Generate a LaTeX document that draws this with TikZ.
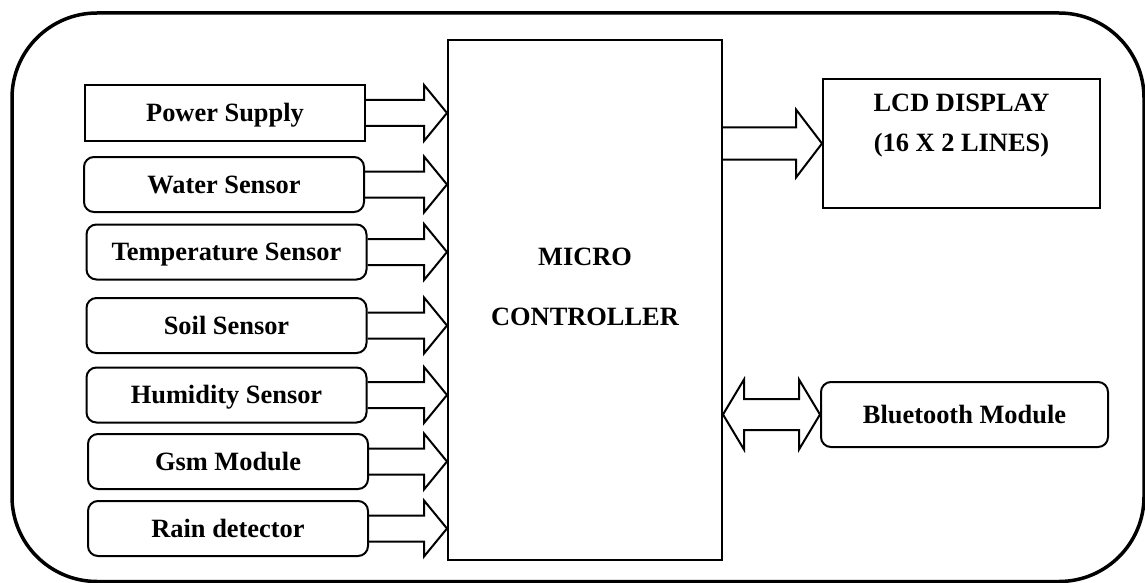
\documentclass[tikz,border=0pt]{standalone}
\usepackage{fontspec}
\setmainfont{Liberation Serif}
\usetikzlibrary{calc}
\tikzset{
  blk/.style={draw, line width=1pt, minimum width=140pt, minimum height=27.5pt, inner sep=0pt,
    text height=8.7pt, text depth=0pt},
  rblk/.style={blk, rounded corners=5pt},
  fat/.style={draw, line width=1pt, line join=miter},
}
% #1 start, #2 tip, #3 shaft half, #4 head half, #5 head length
\newcommand{\fatarrow}[5]{%
  \path (#1) coordinate (fa-s) (#2) coordinate (fa-t);
  \draw[fat] ($(fa-s)+(0,-#3)$) -- ($(fa-t)+(-#5,-#3)$) -- ($(fa-t)+(-#5,-#4)$) -- (fa-t)
    -- ($(fa-t)+(-#5,#4)$) -- ($(fa-t)+(-#5,#3)$) -- ($(fa-s)+(0,#3)$);}
\newcommand{\dblarrow}[5]{%
  \path (#1) coordinate (da-s) (#2) coordinate (da-t);
  \draw[fat] (da-s) -- ($(da-s)+(#5,-#4)$) -- ($(da-s)+(#5,-#3)$) -- ($(da-t)+(-#5,-#3)$)
    -- ($(da-t)+(-#5,-#4)$) -- (da-t) -- ($(da-t)+(-#5,#4)$) -- ($(da-t)+(-#5,#3)$)
    -- ($(da-s)+(#5,#3)$) -- ($(da-s)+(#5,#4)$) -- cycle;}
\begin{document}
\begin{tikzpicture}[x=0.5pt, y=-0.5pt, font=\fontsize{13.2}{16}\selectfont\bfseries]
  \useasboundingbox (0,0) rectangle (1145,583);
  \draw[line width=1.75pt, rounded corners=42.5pt] (12,13) rectangle (1144,581.5);

  \node[blk, minimum width=137pt, minimum height=260pt] (mcu) at (585,300) {};
  \node[align=center] (mcutext) at (585,287) {MICRO\\[14pt]CONTROLLER};

  \node[blk] (power) at (225,113) {Power Supply};
  \node[rblk] (water) at (224,184.5) {Water Sensor};
  \node[rblk] (temp) at (226.5,252) {Temperature Sensor};
  \node[rblk] (soil) at (226.5,325.5) {Soil Sensor};
  \node[rblk] (humid) at (226.5,395) {Humidity Sensor};
  \node[rblk] (gsm) at (228,461.5) {Gsm Module};
  \node[rblk] (rain) at (228,528.5) {Rain detector};

  \node[blk, minimum width=138.5pt, minimum height=64.5pt] (lcd) at (961.5,143.5) {};
  \node[align=center] (lcdtext) at (961.5,126) {LCD DISPLAY\\[4pt](16 X 2 LINES)};
  \node[rblk, minimum width=143.5pt, minimum height=32.5pt] (bt) at (964.5,414.5) {Bluetooth Module};

  \foreach \n in {power,water,temp,soil,humid,gsm,rain}
    \fatarrow{\n.east}{\n.east -| mcu.west}{13}{28}{23};
  \fatarrow{lcd.west -| mcu.east}{lcd.west}{16}{34}{26};
  \dblarrow{bt.west -| mcu.east}{bt.west}{15.5}{35}{21};
\end{tikzpicture}
\end{document}
